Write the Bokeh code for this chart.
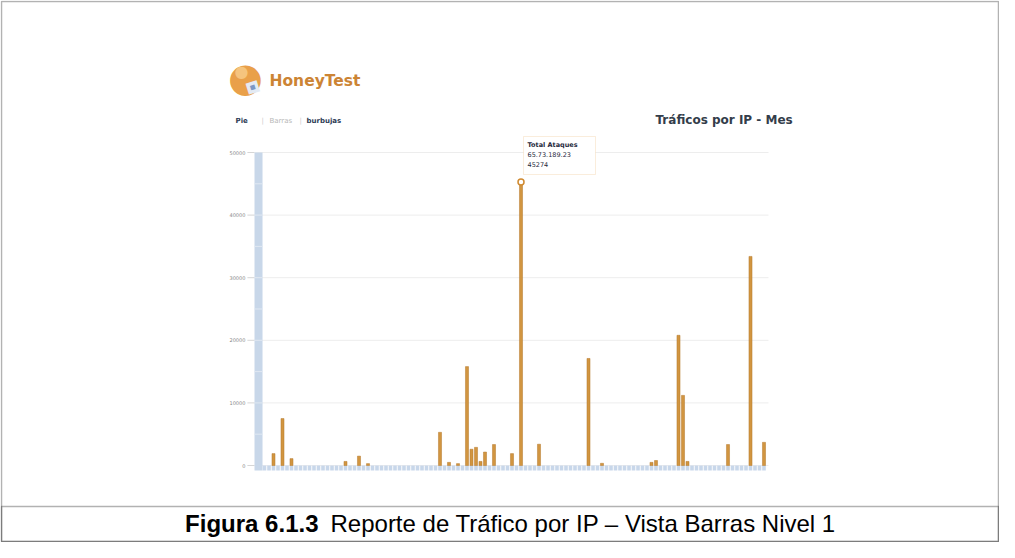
from bokeh.plotting import figure
from bokeh.models import Range1d, Label, BoxAnnotation
from bokeh.embed import file_html
from bokeh.resources import INLINE
from bokeh.core.properties import value

# ---------------- data ----------------
n_ips = 112
posicion = [2, 4, 6, 18, 21, 23, 39, 41, 43, 45, 46, 47, 48, 49, 51, 55, 57, 61,
            72, 75, 86, 87, 92, 93, 94, 103, 108, 111]
ataques = [1900, 7500, 1100, 650, 1500, 300, 5300, 500, 300, 15800, 2600, 2900, 650,
           2150, 3350, 1900, 45274, 3400, 17100, 350, 500, 800, 20800, 11200, 650,
           3350, 33400, 3700]
ticks_y = [0, 10000, 20000, 30000, 40000, 50000]
tick_labels = ["0", "10000", "20000", "30000", "40000", "50000"]
ip_destacada = "65.73.189.23"
titulo = "Tráficos por IP - Mes"
menu = ["Pie", "Barras", "burbujas"]
caption_bold = "Figura 6.1.3"
caption_text = "Reporte de Tráfico por IP – Vista Barras Nivel 1"

# ---------------- figure (frame = whole canvas) ----------------
W, H = 999, 542
PX_PER_CAT = 4.5            # pixels per category
X0 = 264                    # canvas x of category 0
PX_PER_UNIT = 313 / 50000   # pixels per attack
Y0 = 465                    # canvas y of value 0
xs = -X0 / PX_PER_CAT
ys_top = Y0 / PX_PER_UNIT
ys_bot = -(H - Y0) / PX_PER_UNIT

p = figure(width=W, height=H, output_backend="svg", toolbar_location=None,
           x_range=Range1d(xs, xs + W / PX_PER_CAT), y_range=Range1d(ys_bot, ys_top),
           x_axis_location=None, y_axis_location=None,
           min_border_left=0, min_border_right=0, min_border_top=0, min_border_bottom=0)
p.outline_line_color = None
p.background_fill_color = "white"
p.border_fill_color = "white"
p.grid.visible = False

wall_l, wall_r = -2.22, -0.44
tick_l = -3.8
x_end = n_ips
floor = -5 / PX_PER_UNIT

# gridlines and tick marks (from tick values)
p.segment(x0=[wall_l] * len(ticks_y), x1=[x_end] * len(ticks_y), y0=ticks_y, y1=ticks_y,
          line_color="#ededed", line_width=1)
p.segment(x0=[tick_l] * len(ticks_y), x1=[wall_l] * len(ticks_y), y0=ticks_y, y1=ticks_y,
          line_color="#d6d6d6", line_width=1)
p.text(x=[tick_l] * len(ticks_y), y=ticks_y, text=tick_labels, x_offset=-2,
       text_align="right", text_baseline="middle", text_font_size="5px",
       text_color="#888888", text_font=value("DejaVu Sans"))

# left wall
p.quad(left=wall_l, right=wall_r, bottom=floor, top=ticks_y[-1],
       fill_color="#c8d7e9", line_color=None)
half_ticks = [t + 5000 for t in ticks_y[:-1]] + ticks_y[1:-1]
p.segment(x0=[wall_l] * len(half_ticks), x1=[wall_r] * len(half_ticks),
          y0=half_ticks, y1=half_ticks, line_color="#e0e8f2", line_width=1)

# floor band under every category
p.vbar(x=list(range(n_ips)), width=0.8, top=0, bottom=floor,
       fill_color="#c8d7ea", line_color=None)

# bars
p.vbar(x=posicion, top=ataques, width=0.68, fill_color="#d19540",
       line_color="#b5792c", line_width=0.5)

# highlighted point
imax = ataques.index(max(ataques))
p.scatter(x=[posicion[imax]], y=[ataques[imax]], size=6, marker="circle",
          fill_color="white", line_color="#d08a30", line_width=1.5)


# ------------- decorations in canvas pixels -------------
def lbl(text, px, py, size, color, bold=False, font="DejaVu Sans",
        align="left", baseline="middle", angle=0):
    p.add_layout(Label(x=px, y=H - py, x_units="screen", y_units="screen",
                       text=text, text_font=font, text_font_size=f"{size}px",
                       text_color=color,
                       text_font_style="bold" if bold else "normal",
                       text_align=align, text_baseline=baseline, angle=angle,
                       level="overlay"))


def box(l, t, r, b, fill=None, line="black", lw=1.0):
    p.add_layout(BoxAnnotation(left=l, right=r, top=H - t, bottom=H - b,
                               left_units="screen", right_units="screen",
                               top_units="screen", bottom_units="screen",
                               fill_color=fill if fill else "white",
                               fill_alpha=1.0 if fill else 0,
                               line_color=line, line_width=lw, level="annotation"))


# outer border and caption separator
box(1, 1, 998, 541, line="black", lw=1.5)
box(1, 506, 998, 541, line="black", lw=1.5)

# logo
lbl("●", 245, 76, 40, "#e9a04a", align="center")
lbl("●", 241, 71, 16, "#f5c47e", align="center")
lbl("■", 252, 86, 15, "#e3eaf4", align="center", angle=0.3)
lbl("■", 252, 86, 6, "#7b97c4", align="center", angle=0.3)
lbl("HoneyTest", 269, 80, 15.5, "#cc8434", bold=True)

# menu
lbl(menu[0], 235, 120, 7, "#2d3b55", bold=True)
lbl("|", 261, 120, 7, "#cccccc")
lbl(menu[1], 269, 120, 7, "#b8b8b8")
lbl("|", 299, 120, 7, "#cccccc")
lbl(menu[2], 306, 120, 7, "#2d3b55", bold=True)

# title
lbl(titulo, 655, 119, 12, "#333d4a", bold=True)

# tooltip
box(523, 136, 595, 174, fill="white", line="#f0c48a", lw=1)
lbl("Total Ataques", 527, 144, 6.5, "#1f2a3d", bold=True)
lbl(ip_destacada, 527, 154, 6.5, "#1f2a3d")
lbl(str(ataques[imax]), 527, 164, 6.5, "#1f2a3d")

# caption
lbl(caption_bold, 318, 523, 24, "black", bold=True, font="Liberation Sans",
    align="right")
lbl(caption_text, 330, 523, 24, "black", font="Liberation Sans")

open("out.html", "w").write(file_html(p, INLINE))
